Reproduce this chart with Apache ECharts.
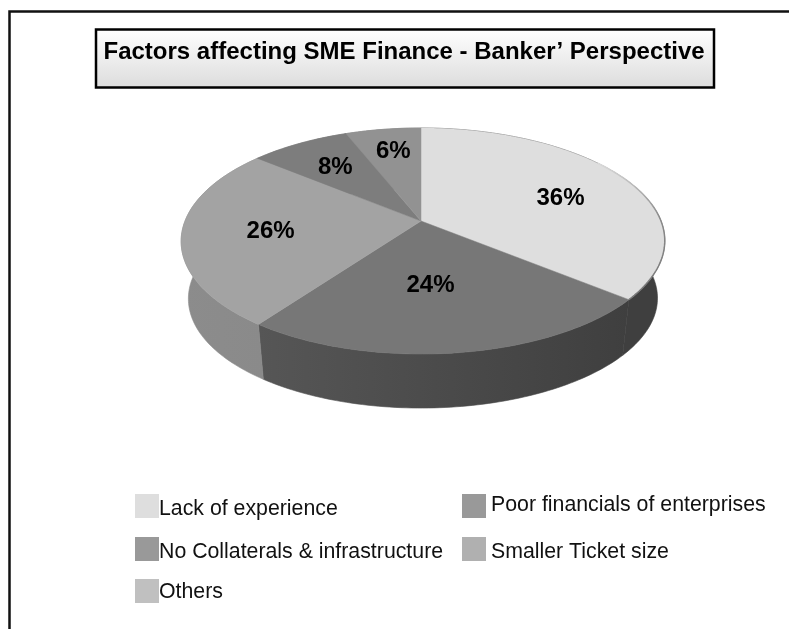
<!DOCTYPE html>
<html>
<head>
<meta charset="utf-8">
<title>Factors affecting SME Finance</title>
<style>
  html, body { margin: 0; padding: 0; background: #fff; }
  #chart { width: 789px; height: 629px; }
</style>
<script src="https://cdn.jsdelivr.net/npm/echarts@6/dist/echarts.min.js"></script>
</head>
<body>
<div id="chart"></div>
<script>
const titleText = "Factors affecting SME Finance - Banker\u2019 Perspective";
const categories = ["Lack of experience", "Poor financials of enterprises", "No Collaterals & infrastructure", "Smaller Ticket size", "Others"];
const shares = [36, 24, 26, 8, 6];
const topColours = ["#dedede", "#777777", "#a3a3a3", "#7d7d7d", "#929292"];
const sideColours = [["#3f3f3f", "#3f3f3f"], ["#565656", "#3f3f3f"], ["#8c8c8c", "#8a8a8a"], ["#808080", "#808080"], ["#808080", "#808080"]];
const legendColours = ["#dedede", "#999999", "#999999", "#b0b0b0", "#c0c0c0"];
const legendSpots = [[135, 494], [462, 494], [135, 537], [462, 537], [135, 579]];
const legendBoxPadding = [[0, 0, 0, -5], [0, 0, 0, 0], [0, 0, 0, -5], [0, 0, 0, 0], [0, 0, 0, -5]];
const legendRunPadding = [[7, 0, 0, 0], [0, 0, 2, 0], [7, 0, 0, 0], [7, 0, 0, 0], [3, 0, 0, 0]];
const labelNudges = [[6, 6], [-9, -3], [-4, 2], [1, 1], [0, -3]];

// Tilted disc: a unit circle seen in perspective, with a lower rim for the thickness.
const disc = { cx: 421, cy: 221, a: 238, b: 109.5, p: 0.177, lean: 2, rimDrop: 58, rimScale: 0.97, labelRadius: 0.62 };
const fontFamily = "'Liberation Sans', Arial, sans-serif";

function project(angle, scale, drop) {
  const u = Math.sin(angle), v = -Math.cos(angle);
  const s = scale / (1 - disc.p * v);
  return [disc.cx + disc.a * u * s + disc.lean * u * u, disc.cy + drop + disc.b * v * s];
}

function arcPoints(from, to, scale, drop) {
  const steps = Math.max(2, Math.ceil(Math.abs(to - from) / 0.02));
  const pts = [];
  for (let i = 0; i <= steps; i++) {
    pts.push(project(from + (to - from) * i / steps, scale, drop));
  }
  return pts;
}

const total = shares.reduce((a, b) => a + b, 0);

function renderSlice(params, api) {
  const idx = params.seriesIndex;
  const value = api.value(0);
  const before = shares.slice(0, idx).reduce((a, b) => a + b, 0);
  const a0 = before / total * Math.PI * 2;
  const a1 = (before + value) / total * Math.PI * 2;
  const mid = (a0 + a1) / 2;

  const topArc = arcPoints(a0, a1, 1, 0);
  const lowArc = arcPoints(a0, a1, disc.rimScale, disc.rimDrop);
  const sideFill = new echarts.graphic.LinearGradient(0, 0, 1, 0, [
    { offset: 0, color: sideColours[idx][0] },
    { offset: 1, color: sideColours[idx][1] }
  ]);
  const children = [{
    type: "polygon",
    z2: 1,
    shape: { points: topArc.concat(lowArc.slice().reverse()) },
    style: { fill: sideFill, stroke: sideFill, lineWidth: 0.6 }
  }, {
    type: "polygon",
    z2: 2,
    shape: { points: [[disc.cx, disc.cy]].concat(topArc) },
    style: { fill: topColours[idx], stroke: topColours[idx], lineWidth: 0.5 }
  }];

  // Darker edge where the light slice turns over into the rim on the right.
  if (idx === 0) {
    children.push({
      type: "polyline",
      z2: 3,
      shape: { points: arcPoints(a1 * 0.42, a1, 1, 0) },
      style: {
        fill: null,
        lineWidth: 1.5,
        stroke: new echarts.graphic.LinearGradient(0, 0, 0, 1, [
          { offset: 0, color: "#dedede" },
          { offset: 0.4, color: "#8a8a8a" },
          { offset: 1, color: "#777777" }
        ])
      }
    });
  }

  children.push({
    type: "text",
    z2: 4,
    style: {
      text: value + "%",
      x: disc.cx + disc.a * Math.sin(mid) * disc.labelRadius + labelNudges[idx][0],
      y: disc.cy - disc.b * Math.cos(mid) * disc.labelRadius + labelNudges[idx][1],
      align: "center",
      verticalAlign: "middle",
      fill: "#000",
      font: "bold 24px " + fontFamily
    }
  });
  return { type: "group", children };
}

const chart = echarts.init(document.getElementById("chart"), null, { renderer: "canvas" });
chart.setOption({
  animation: false,
  backgroundColor: "#ffffff",
  title: {
    text: titleText,
    left: 96,
    top: 29,
    padding: [11, 10, 24, 7.5],
    borderColor: "#000",
    borderWidth: 2.5,
    backgroundColor: new echarts.graphic.LinearGradient(0, 0, 0, 1, [
      { offset: 0, color: "#ffffff" },
      { offset: 1, color: "#dcdcdc" }
    ]),
    textStyle: { fontFamily, fontWeight: "bold", fontSize: 24, color: "#000" }
  },
  legend: categories.map((name, i) => ({
    data: [{ name, icon: "rect", itemStyle: { color: legendColours[i] } }],
    left: legendSpots[i][0],
    top: legendSpots[i][1],
    padding: 0,
    itemWidth: 24,
    itemHeight: 24,
    selectedMode: false,
    formatter: "{run|{name}}",
    textStyle: {
      padding: legendBoxPadding[i],
      rich: { run: { fontFamily, fontSize: 21.3, color: "#111", padding: legendRunPadding[i] } }
    }
  })),
  series: categories.map((name, i) => ({
    type: "custom",
    name,
    coordinateSystem: "none",
    silent: true,
    renderItem: renderSlice,
    itemStyle: { color: legendColours[i] },
    data: [shares[i]]
  })),
  graphic: [{
    type: "polyline",
    silent: true,
    shape: { points: [[9.5, 629], [9.5, 11.5], [789, 11.5]] },
    style: { fill: null, stroke: "#111", lineWidth: 2.5 }
  }]
});
</script>
</body>
</html>
